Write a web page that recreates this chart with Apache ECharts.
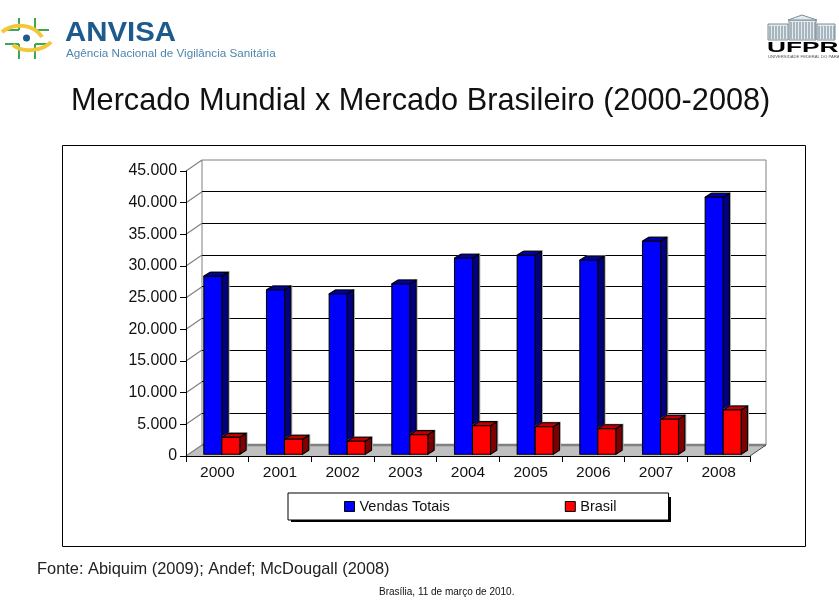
<!DOCTYPE html>
<html><head><meta charset="utf-8">
<style>html,body{margin:0;padding:0;background:#fff}#c{width:839px;height:614px}</style>
<script src="https://cdn.jsdelivr.net/npm/echarts@6/dist/echarts.min.js"></script>
</head><body><div id="c"></div>
<script>
const categories = ['2000','2001','2002','2003','2004','2005','2006','2007','2008'];
const vendasTotais = [28100,25950,25300,26890,30950,31420,30630,33630,40580];
const brasil = [2680,2370,2050,3100,4520,4360,4040,5530,7000];
const yTickValues = [0,5000,10000,15000,20000,25000,30000,35000,40000,45000];
const yTickLabels = ['0','5.000','10.000','15.000','20.000','25.000','30.000','35.000','40.000','45.000'];
const FONT = '"Liberation Sans", Arial, sans-serif';
const DEPTH_X = 16, DEPTH_Y = 11;

function barRenderer(leftOff, width, front, top, side) {
  return function (params, api) {
    const base = api.coord([api.value(0), 0]);
    const tip = api.coord([api.value(0), api.value(1)]);
    const x0 = base[0] + leftOff, x1 = x0 + width;
    const yb = base[1] - 1.7, yt = tip[1] - 1.7;
    const dx = 6.3, dy = 4;
    const ls = {stroke: '#000', lineWidth: 1.1, lineJoin: 'round'};
    return {type: 'group', children: [
      {type: 'polygon', shape: {points: [[x1+1.5,yb-1],[x1+dx+1.5,yb-dy-1],[x1+dx+1.5,yt-dy-1],[x0+dx+1,yt-dy-1],[x0,yt-1]]}, style: {fill: '#aaaaaa'}},
      {type: 'polygon', shape: {points: [[x1,yt],[x1+dx,yt-dy],[x1+dx,yb-dy],[x1,yb]]}, style: Object.assign({fill: side}, ls)},
      {type: 'polygon', shape: {points: [[x0,yt],[x0+dx,yt-dy],[x1+dx,yt-dy],[x1,yt]]}, style: Object.assign({fill: top}, ls)},
      {type: 'rect', shape: {x: x0, y: yt, width: width, height: yb-yt}, style: Object.assign({fill: front}, ls)}
    ]};
  };
}

function frameRenderer(params, api) {
  const cs = params.coordSys;
  const p = api.coord([0, api.value(1)]);
  const x = cs.x, children = [];
  if (params.dataIndex === 0) {
    const b = cs.y + cs.height, r = cs.x + cs.width;
    children.push({type: 'polygon', shape: {points: [[x,b],[x+DEPTH_X,b-DEPTH_Y],[r+DEPTH_X,b-DEPTH_Y],[r,b]]}, style: {fill: '#c0c0c0'}});
    children.push({type: 'line', shape: {x1: x+DEPTH_X, y1: b-DEPTH_Y, x2: r+DEPTH_X, y2: b-DEPTH_Y}, style: {stroke: '#808080', lineWidth: 2.5}});
    children.push({type: 'line', shape: {x1: r, y1: b, x2: r+DEPTH_X, y2: b-DEPTH_Y}, style: {stroke: '#444', lineWidth: 1}});
  }
  children.push({type: 'line', shape: {x1: x, y1: p[1], x2: x+DEPTH_X, y2: p[1]-DEPTH_Y}, style: {stroke: '#808080', lineWidth: 1.2}});
  return {type: 'group', children};
}

const building = [];
[[768,24,788,40],[789,20,816,40],[817,24,835,40]].forEach(function (b) {
  building.push({type:'rect', shape:{x:b[0],y:b[1],width:b[2]-b[0],height:b[3]-b[1]}, style:{fill:'#e4eaee',stroke:'#7b8e9b',lineWidth:1}});
  for (let i = b[0]+2; i < b[2]; i += 3) {
    building.push({type:'line', shape:{x1:i,y1:b[1]+2,x2:i,y2:b[3]-1}, style:{stroke:'#6d808d',lineWidth:1}});
  }
});
const greens = [[19,18,19,30],[5,30,19,30],[35,18,35,30],[35,30,49,30],[5,44,19,44],[19,44,19,59],[35,44,49,44],[35,44,35,59]]
  .map(l => ({type:'line', shape:{x1:l[0],y1:l[1],x2:l[2],y2:l[3]}, style:{stroke:'#3fa84f',lineWidth:2}}));

const chart = echarts.init(document.getElementById('c'), null, {renderer:'canvas'});
chart.setOption({
  animation: false,
  backgroundColor: '#fff',
  title: {text: 'Mercado Mundial x Mercado Brasileiro (2000-2008)', left: 66, top: 81,
    textStyle: {fontFamily: FONT, fontSize: 30.7, fontWeight: 'normal', color: '#111'}},
  legend: {
    data: ['Vendas Totais','Brasil'], left: 288, top: 493, orient: 'horizontal', icon: 'rect',
    itemWidth: 10, itemHeight: 10, itemGap: 115, z: 5,
    padding: [6, 52, 6, 56], borderColor: '#000', borderWidth: 1, backgroundColor: '#fff',
    itemStyle: {borderColor: '#000', borderWidth: 1},
    selectedMode: false,
    textStyle: {fontFamily: FONT, fontSize: 14.5, color: '#111', padding: [0,0,0,0]}
  },
  grid: [
    {left: 186, right: 89, top: 171, bottom: 158},
    {left: 202, right: 73, top: 160, bottom: 169, show: true, backgroundColor: '#fff', borderColor: '#808080', borderWidth: 1, z: 0}
  ],
  xAxis: [
    {type: 'category', data: categories, gridIndex: 0, z: 4,
     axisLine: {lineStyle: {color: '#000', width: 1}}, axisTick: {show: true, alignWithLabel: false, length: 6, lineStyle: {color: '#000'}},
     axisLabel: {fontFamily: FONT, fontSize: 15.5, color: '#111', margin: 9}, splitLine: {show: false}},
    {type: 'category', data: categories, gridIndex: 1, show: false}
  ],
  yAxis: [
    {type: 'value', min: 0, max: 45000, interval: 5000, gridIndex: 0, z: 4,
     axisLine: {show: true, lineStyle: {color: '#000', width: 1}}, axisTick: {show: true, length: 6, lineStyle: {color: '#000'}},
     axisLabel: {fontFamily: FONT, fontSize: 15.9, color: '#111', margin: 9, formatter: v => yTickLabels[yTickValues.indexOf(v)]},
     splitLine: {show: false}},
    {type: 'value', min: 0, max: 45000, interval: 5000, gridIndex: 1,
     axisLine: {show: false}, axisTick: {show: false}, axisLabel: {show: false},
     splitLine: {show: true, showMinLine: false, showMaxLine: false, lineStyle: {color: '#000', width: 1}}}
  ],
  series: [
    {name: 'frame', type: 'custom', xAxisIndex: 0, yAxisIndex: 0, z: 1, silent: true, clip: false,
     renderItem: frameRenderer, encode: {x: 0, y: 1},
     data: yTickValues.map(v => [0, v])},
    {name: 'Vendas Totais', type: 'custom', xAxisIndex: 0, yAxisIndex: 0, z: 2, clip: false,
     itemStyle: {color: '#0000ff'},
     renderItem: barRenderer(-13.5, 18, '#0000ff', '#0000a8', '#000080'), encode: {x: 0, y: 1},
     data: vendasTotais.map((v, i) => [i, v])},
    {name: 'Brasil', type: 'custom', xAxisIndex: 0, yAxisIndex: 0, z: 3, clip: false,
     itemStyle: {color: '#ff0000'},
     renderItem: barRenderer(4.5, 18, '#ff0000', '#c00000', '#800000'), encode: {x: 0, y: 1},
     data: brasil.map((v, i) => [i, v])}
  ],
  graphic: [
    {type: 'rect', z: -1, shape: {x: 62.5, y: 145.5, width: 743, height: 401}, style: {fill: 'none', stroke: '#000', lineWidth: 1}},
    {type: 'rect', z: 1, shape: {x: 291, y: 497, width: 380, height: 25}, style: {fill: '#000'}},
    {type: 'text', x: 37, y: 561, style: {text: 'Fonte: Abiquim (2009); Andef; McDougall (2008)', fontFamily: FONT, fontSize: 16.4, fill: '#222'}},
    {type: 'text', x: 379, y: 587, style: {text: 'Brasília, 11 de março de 2010.', fontFamily: FONT, fontSize: 10, fill: '#111'}},
    {type: 'text', x: 65, y: 19, scaleX: 1.05, style: {text: 'ANVISA', fontFamily: FONT, fontSize: 28, fontWeight: 'bold', fill: '#1d5a8e'}},
    {type: 'text', x: 66, y: 48, style: {text: 'Agência Nacional de Vigilância Sanitária', fontFamily: FONT, fontSize: 11.7, fill: '#4f86ad'}},
    {type: 'group', children: greens},
    {type: 'bezierCurve', shape: {x1: 2, y1: 32, cpx1: 14, cpy1: 22, cpx2: 34, cpy2: 24, x2: 42, y2: 37}, style: {stroke: '#f2c83a', lineWidth: 4, fill: 'none'}},
    {type: 'bezierCurve', shape: {x1: 13, y1: 45, cpx1: 24, cpy1: 54, cpx2: 44, cpy2: 50, x2: 51, y2: 42}, style: {stroke: '#f2c83a', lineWidth: 4, fill: 'none'}},
    {type: 'circle', shape: {cx: 26.5, cy: 38, r: 3.5}, style: {fill: '#1d5a8e'}},
    {type: 'group', children: building},
    {type: 'polygon', shape: {points: [[788,20],[802,15],[817,20]]}, style: {fill: '#e4eaee', stroke: '#7b8e9b', lineWidth: 1}},
    {type: 'text', x: 767, y: 40, scaleX: 1.75, style: {text: 'UFPR', fontFamily: FONT, fontSize: 15, fontWeight: 'bold', fill: '#000'}},
    {type: 'text', x: 768, y: 55, style: {text: 'UNIVERSIDADE FEDERAL DO PARANÁ', fontFamily: FONT, fontSize: 4.2, fill: '#555'}}
  ]
});
</script></body></html>
